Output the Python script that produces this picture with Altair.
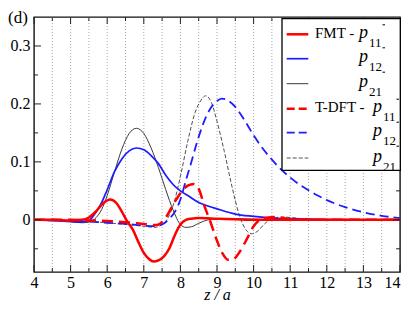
import altair as alt
import pandas as pd

# ---------------- data ----------------
X_LABELS = [4, 5, 6, 7, 8, 9, 10, 11, 12, 13, 14]
X_MINOR = [4.5, 5.5, 6.5, 7.5, 8.5, 9.5, 10.5, 11.5, 12.5, 13.5]
X_GRID = [4.5, 5, 5.5, 6, 6.5, 7, 7.5, 8, 8.5, 9, 9.5, 10, 10.5, 11, 11.5, 12, 12.5, 13, 13.5]
Y_LABELS = [0, 0.1, 0.2, 0.3]
Y_MINOR = [-0.05, 0.05, 0.15, 0.25]

Z_FMT_P11 = [4, 4.5, 5, 5.3, 5.5, 5.7, 5.9, 6.08, 6.25, 6.4, 6.55, 6.7, 6.85, 7.0, 7.15, 7.26, 7.4, 7.55, 7.7, 7.85, 8.0, 8.15, 8.3, 8.5, 9.0, 9.5, 10, 11, 12, 13, 14]
V_FMT_P11 = [0, 0, -0.001, 0.0, 0.004, 0.015, 0.029, 0.035, 0.029, 0.014, -0.003, -0.017, -0.038, -0.057, -0.068, -0.072, -0.070, -0.063, -0.049, -0.026, -0.008, 0.0, 0.002, 0.003, 0.002, 0.001, 0.0, 0, 0, 0, 0]

Z_FMT_P12 = [4, 4.5, 5, 5.3, 5.5, 5.7, 5.85, 6.0, 6.2, 6.4, 6.6, 6.8, 7.0, 7.2, 7.4, 7.6, 7.8, 8.0, 8.25, 8.5, 8.75, 9.0, 9.5, 10, 10.5, 11, 12, 13, 14]
V_FMT_P12 = [0, -0.001, -0.003, -0.004, -0.001, 0.014, 0.030, 0.052, 0.083, 0.105, 0.119, 0.124, 0.121, 0.111, 0.097, 0.077, 0.061, 0.050, 0.040, 0.030, 0.024, 0.019, 0.010, 0.006, 0.003, 0.002, 0.0005, 0, 0]

Z_FMT_P21 = [4, 4.5, 5, 5.3, 5.5, 5.7, 5.85, 6.0, 6.2, 6.4, 6.6, 6.8, 7.0, 7.2, 7.4, 7.6, 7.8, 8.0, 8.15, 8.3, 8.5, 8.75, 9.0, 9.5, 10, 11, 12, 14]
V_FMT_P21 = [0, -0.001, -0.003, -0.005, -0.004, 0.004, 0.018, 0.042, 0.083, 0.122, 0.149, 0.158, 0.149, 0.124, 0.090, 0.052, 0.017, -0.008, -0.013, -0.012, -0.006, 0.0, 0.002, 0.002, 0.001, 0, 0, 0]

Z_TDFT_P11 = [4, 5, 5.5, 6, 6.5, 7.0, 7.35, 7.6, 7.8, 8.0, 8.2, 8.37, 8.5, 8.65, 8.8, 9.0, 9.15, 9.3, 9.45, 9.6, 9.8, 10.0, 10.2, 10.4, 10.6, 10.8, 11, 12, 14]
V_TDFT_P11 = [0, 0, -0.001, -0.002, -0.004, -0.007, -0.009, 0.004, 0.026, 0.046, 0.059, 0.062, 0.054, 0.025, 0.0, -0.036, -0.058, -0.069, -0.068, -0.057, -0.035, -0.011, 0.001, 0.004, 0.005, 0.003, 0.001, 0, 0]

Z_TDFT_P12 = [4, 5, 5.5, 6, 6.5, 7.0, 7.3, 7.5, 7.7, 7.85, 8.0, 8.15, 8.3, 8.45, 8.6, 8.8, 9.0, 9.13, 9.3, 9.5, 9.75, 10.0, 10.25, 10.5, 10.75, 11.0, 11.25, 11.5, 11.75, 12.0, 12.5, 13.0, 13.5, 14]
V_TDFT_P12 = [0, -0.002, -0.003, -0.005, -0.007, -0.010, -0.011, -0.008, 0.002, 0.014, 0.035, 0.068, 0.100, 0.133, 0.162, 0.190, 0.205, 0.209, 0.206, 0.195, 0.172, 0.146, 0.123, 0.104, 0.087, 0.073, 0.061, 0.051, 0.042, 0.034, 0.022, 0.013, 0.007, 0.003]

Z_TDFT_P21 = [4, 5, 5.5, 6, 6.5, 7.0, 7.3, 7.5, 7.7, 7.85, 8.0, 8.2, 8.4, 8.55, 8.69, 8.85, 9.0, 9.2, 9.4, 9.6, 9.8, 9.95, 10.1, 10.3, 10.5, 10.8, 11.0, 11.5, 12, 14]
V_TDFT_P21 = [0, -0.002, -0.003, -0.005, -0.008, -0.011, -0.013, -0.008, 0.008, 0.035, 0.075, 0.135, 0.185, 0.205, 0.214, 0.202, 0.170, 0.118, 0.060, 0.010, -0.018, -0.024, -0.020, -0.007, 0.002, 0.005, 0.004, 0.001, 0, 0]

# ---------------- layout ----------------
W, H = 366, 255
PAD = {"left": 26, "top": 9, "right": 1, "bottom": 30}
SERIF = "Liberation Serif"
RED, BLUE, GRAY, GRAY2 = "#ff0000", "#1c1cff", "#3a3a3a", "#505050"

xs = alt.Scale(domain=[4, 14], nice=False, zero=False)
ys = alt.Scale(domain=[-0.09, 0.35], nice=False, zero=False)

xaxis = alt.Axis(values=X_LABELS, format="d", title="z / a", titleFont=SERIF,
                 titleFontStyle="italic", titleFontWeight="normal", titleFontSize=16,
                 titleColor="black", titlePadding=-4, labelFont=SERIF, labelFontSize=16,
                 labelColor="black", labelPadding=2, ticks=False, domain=False,
                 grid=False, labelFlush=False,
                 labelAlign={"condition": {"test": "datum.value == 14", "value": "right"},
                             "value": "center"})
yaxis = alt.Axis(values=Y_LABELS, format="~g", title=None, labelFont=SERIF,
                 labelFontSize=16, labelColor="black", labelPadding=4, ticks=False,
                 domain=False, grid=False, labelFlush=False)


def X(field):
    return alt.X(field, type="quantitative", scale=xs, axis=xaxis)


def Y(field):
    return alt.Y(field, type="quantitative", scale=ys, axis=yaxis)


layers = []

# vertical dotted grid
layers.append(alt.Chart(pd.DataFrame({"g": X_GRID})).mark_rule(
    color="#a8a8a8", strokeWidth=1, strokeDash=[1, 2]).encode(
    x=X("g"), y=alt.value(0), y2=alt.value(H)))

series = [
    (Z_TDFT_P21, V_TDFT_P21, GRAY2, 1.0, [4, 2]),
    (Z_TDFT_P12, V_TDFT_P12, BLUE, 1.8, [9, 5]),
    (Z_FMT_P21, V_FMT_P21, GRAY, 1.0, None),
    (Z_FMT_P12, V_FMT_P12, BLUE, 1.7, None),
    (Z_TDFT_P11, V_TDFT_P11, RED, 2.5, [11, 6]),
    (Z_FMT_P11, V_FMT_P11, RED, 2.5, None),
]
for zz, vv, col, sw, dash in series:
    kw = dict(color=col, strokeWidth=sw, interpolate="monotone", clip=True)
    if dash:
        kw["strokeDash"] = dash
    layers.append(alt.Chart(pd.DataFrame({"z": zz, "v": vv})).mark_line(**kw).encode(
        x=X("z"), y=Y("v")))

# inward ticks
TICK = "#222222"
for vals, ln in ((Y_LABELS, 7), (Y_MINOR, 4)):
    d = pd.DataFrame({"t": vals})
    layers.append(alt.Chart(d).mark_rule(color=TICK, strokeWidth=1).encode(
        y=Y("t"), x=alt.value(0), x2=alt.value(ln)))
    layers.append(alt.Chart(d).mark_rule(color=TICK, strokeWidth=1).encode(
        y=Y("t"), x=alt.value(W), x2=alt.value(W - ln)))
for vals, ln in ((X_LABELS, 7), (X_MINOR, 4)):
    d = pd.DataFrame({"t": vals})
    layers.append(alt.Chart(d).mark_rule(color=TICK, strokeWidth=1).encode(
        x=X("t"), y=alt.value(H), y2=alt.value(H - ln)))
    layers.append(alt.Chart(d).mark_rule(color=TICK, strokeWidth=1).encode(
        x=X("t"), y=alt.value(0), y2=alt.value(ln)))

one = pd.DataFrame({"a": [0]})

# legend box (kept inside the canvas)
DX = -4
layers.append(alt.Chart(one).mark_rect(fill="white", stroke="black", strokeWidth=1.3).encode(
    x=alt.value(252 + DX), x2=alt.value(W + PAD["right"] - 0.7), y=alt.value(1.7), y2=alt.value(153.3)))

ROWS = [17.3, 41.7, 66.7, 91.7, 115.7, 141.0]
LEG = [
    (RED, 2.5, None, "FMT - ", "11", 329, True, True),
    (BLUE, 1.7, None, "", "12", 329, False, True),
    (GRAY, 1.0, None, "", "21", 329, False, False),
    (RED, 2.5, [8, 4], "T-DFT - ", "11", 343, True, True),
    (BLUE, 1.8, [8, 4], "", "12", 343, False, True),
    (GRAY2, 1.0, [4, 2], "", "21", 343, False, False),
]
for ry, (col, sw, dash, head, sub, px, topdash, botdash) in zip(ROWS, LEG):
    px = px + DX
    kw = dict(color=col, strokeWidth=sw)
    if dash:
        kw["strokeDash"] = dash
    layers.append(alt.Chart(one).mark_rule(**kw).encode(
        x=alt.value(256.7 + DX), x2=alt.value(278.3 + DX), y=alt.value(ry)))
    if head:
        layers.append(alt.Chart(one).mark_text(
            font=SERIF, fontSize=15, align="left", baseline="alphabetic", color="black").encode(
            x=alt.value(285 + DX), y=alt.value(ry + 3.5), text=alt.value(head)))
    layers.append(alt.Chart(one).mark_text(
        font=SERIF, fontSize=18, fontStyle="italic", align="left", baseline="alphabetic",
        color="black").encode(x=alt.value(px), y=alt.value(ry + 3.5), text=alt.value("p")))
    layers.append(alt.Chart(one).mark_text(
        font=SERIF, fontSize=13, align="left", baseline="alphabetic", color="black").encode(
        x=alt.value(px + 10), y=alt.value(ry + 12.5), text=alt.value(sub)))
    if topdash:
        layers.append(alt.Chart(one).mark_rule(color="black", strokeWidth=1).encode(
            x=alt.value(px + 23.5), x2=alt.value(px + 26), y=alt.value(ry - 9.5)))
    if botdash:
        layers.append(alt.Chart(one).mark_rule(color="black", strokeWidth=1).encode(
            x=alt.value(px + 23.5), x2=alt.value(px + 26), y=alt.value(ry + 13.5)))

# panel tag
layers.append(alt.Chart(one).mark_text(
    font=SERIF, fontSize=17, align="left", baseline="alphabetic", color="black").encode(
    x=alt.value(-26), y=alt.value(6), text=alt.value("(d)")))

chart = alt.layer(*layers).properties(
    width=W, height=H,
    autosize=alt.AutoSizeParams(type="none"),
    padding=PAD,
    background="white",
).configure(font=SERIF).configure_axis(
    labelFont=SERIF, titleFont=SERIF
).configure_view(stroke="#111111", strokeWidth=1.4)

chart.save("out.html", embed_options={"renderer": "svg", "actions": False})
